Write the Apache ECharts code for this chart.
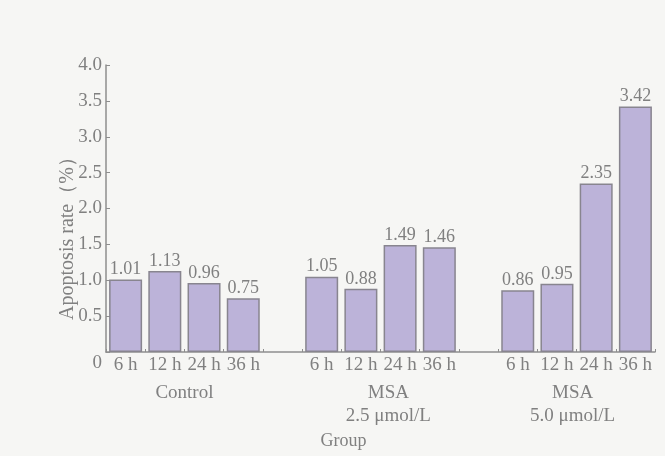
<!DOCTYPE html>
<html>
<head>
<meta charset="utf-8">
<script src="https://cdn.jsdelivr.net/npm/echarts@6/dist/echarts.min.js"></script>
<style>
  html, body { margin: 0; padding: 0; background: #f6f6f4; }
  #chart { width: 665px; height: 456px; }
</style>
</head>
<body>
<div id="chart"></div>
<script>
// Apoptosis rate by time point for each treatment group
const timeLabels = ['6 h', '12 h', '24 h', '36 h'];
const groupNames = ['Control', 'MSA\n2.5 μmol/L', 'MSA\n5.0 μmol/L'];
const controlRates = [1.01, 1.13, 0.96, 0.75];
const msa25Rates = [1.05, 0.88, 1.49, 1.46];
const msa50Rates = [0.86, 0.95, 2.35, 3.42];
const yTicks = [0, 0.5, 1.0, 1.5, 2.0, 2.5, 3.0, 3.5, 4.0];
// centre of each group's label along the slot scale (one slot per category)
const groupLabelPos = [2, 7.2, 11.9];

// one empty slot between groups
const groupsData = [controlRates, msa25Rates, msa50Rates];
const categories = [];
const values = [];
groupsData.forEach((arr, gi) => {
  if (gi > 0) { categories.push(''); values.push(null); }
  arr.forEach((v, i) => { categories.push(timeLabels[i]); values.push(v); });
});

const FONT = "'Liberation Serif', 'DejaVu Serif', serif";
const TEXT = '#808080';
const AXIS = '#8e8e8e';

const chart = echarts.init(document.getElementById('chart'));
chart.setOption({
  backgroundColor: '#f6f6f4',
  animation: false,
  textStyle: { fontFamily: FONT },
  grid: { left: 106, right: 10, top: 65, bottom: 104, containLabel: false },
  xAxis: [{
    type: 'category',
    data: categories,
    boundaryGap: true,
    axisLine: { show: true, lineStyle: { color: AXIS, width: 1.5 } },
    axisTick: { show: true, inside: true, length: 3, lineStyle: { color: AXIS } },
    axisLabel: { color: TEXT, fontFamily: FONT, fontSize: 19, margin: 4, interval: 0 },
    name: 'Group',
    nameLocation: 'middle',
    nameGap: 80,
    nameMoveOverlap: false,
    nameTextStyle: { color: TEXT, fontFamily: FONT, fontSize: 18, padding: [0, 74, 0, 0] }
  }, {
    type: 'value',
    min: 0,
    max: categories.length,
    position: 'bottom',
    axisLine: { show: false },
    axisTick: { show: false },
    splitLine: { show: false },
    axisLabel: {
      customValues: groupLabelPos,
      formatter: (v) => groupNames[groupLabelPos.indexOf(v)] || '',
      color: TEXT, fontFamily: FONT, fontSize: 19, lineHeight: 23, margin: 30
    }
  }],
  yAxis: {
    type: 'value',
    min: 0,
    max: 4,
    interval: 0.5,
    splitLine: { show: false },
    axisLine: { show: true, lineStyle: { color: AXIS, width: 1.5 } },
    axisTick: { show: true, inside: true, length: 4, lineStyle: { color: AXIS } },
    axisLabel: {
      color: TEXT, fontFamily: FONT, fontSize: 19, margin: 4,
      formatter: (v) => v === 0 ? '{z|0}' : yTicks[yTicks.indexOf(v)].toFixed(1),
      rich: { z: { color: TEXT, fontFamily: FONT, fontSize: 19, padding: [22, 0, 0, 0] } }
    },
    name: 'Apoptosis rate（%）',
    nameLocation: 'middle',
    nameGap: 28,
    nameMoveOverlap: false,
    nameTextStyle: { color: TEXT, fontFamily: FONT, fontSize: 20, padding: [0, 50, 0, 0] }
  },
  series: [{
    type: 'bar',
    xAxisIndex: 0,
    data: values,
    barWidth: 33,
    itemStyle: { color: '#bcb3d9', borderColor: '#88858f', borderWidth: 1.5 },
    label: {
      show: true, position: 'top', distance: 1,
      color: TEXT, fontFamily: FONT, fontSize: 18,
      formatter: (p) => p.value.toFixed(2)
    }
  }]
});
</script>
</body>
</html>
